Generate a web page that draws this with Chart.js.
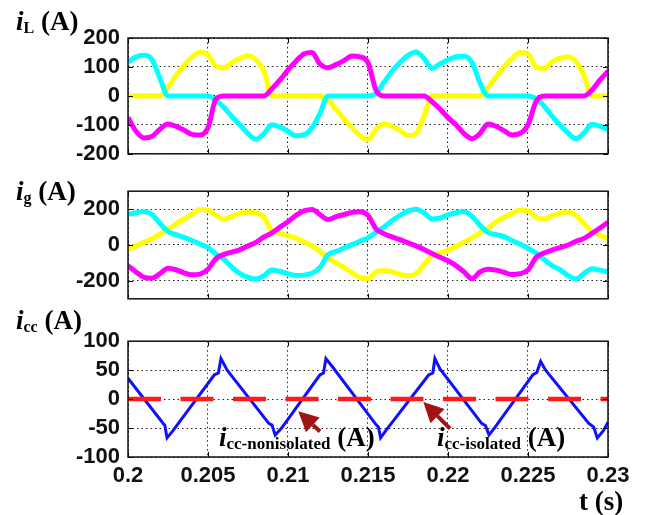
<!DOCTYPE html>
<html>
<head>
<meta charset="utf-8">
<title>iL, ig, icc</title>
<script src="https://cdn.jsdelivr.net/npm/chart.js@4.4.0/dist/chart.umd.min.js"></script>
<style>
  html, body { margin: 0; padding: 0; background: #fff; }
  #wrap { position: relative; width: 648px; height: 515px; overflow: hidden; }
  canvas { position: absolute; left: 0; }
  .lbl { position: absolute; font-family: "Liberation Serif", "Times New Roman", serif; font-weight: bold;
         font-size: 27px; line-height: 27px; white-space: nowrap; color: #000; }
  .lbl i { font-style: italic; }
  .lbl sub { font-size: 16px; vertical-align: baseline; position: relative; top: 3px; }
  .lbl sub.long { font-size: 17px; }
</style>
</head>
<body>
<div id="wrap">
  <canvas id="chartL" width="648" height="175" style="top:0px"></canvas>
  <canvas id="chartG" width="648" height="150" style="top:170px"></canvas>
  <canvas id="chartC" width="648" height="195" style="top:320px"></canvas>

  <div class="lbl" style="left:16px;top:8px"><i>i</i><sub>L</sub> (A)</div>
  <div class="lbl" style="left:16px;top:178px"><i>i</i><sub>g</sub> (A)</div>
  <div class="lbl" style="left:16px;top:307px"><i>i</i><sub>cc</sub> (A)</div>
  <div class="lbl" style="left:219px;top:424px"><i>i</i><sub class="long">cc-nonisolated</sub> (A)</div>
  <div class="lbl" style="left:437px;top:424px"><i>i</i><sub class="long">cc-isolated</sub> (A)</div>
  <div class="lbl" style="left:579px;top:488px">t (s)</div>
</div>

<script>
(function () {
    "use strict";

    // Data
    var timeS = [0.2, 0.2005, 0.201, 0.2015, 0.202, 0.2025, 0.203, 0.2035, 0.204, 0.2045,
                 0.205, 0.2055, 0.206, 0.2065, 0.207, 0.2075, 0.208, 0.2085, 0.209, 0.2095,
                 0.21, 0.2105, 0.211, 0.2115, 0.212, 0.2125, 0.213, 0.2135, 0.214, 0.2145,
                 0.215, 0.2155, 0.216, 0.2165, 0.217, 0.2175, 0.218, 0.2185, 0.219, 0.2195,
                 0.22, 0.2205, 0.221, 0.2215, 0.222, 0.2225, 0.223, 0.2235, 0.224, 0.2245,
                 0.225, 0.2255, 0.226, 0.2265, 0.227, 0.2275, 0.228, 0.2285, 0.229, 0.2295, 0.23];

    var ilYellow = [0, 0, 0, 0, 0, 30, 70, 105, 134, 152,
                    142, 103, 97, 115, 130, 139, 125, 85, 0, 0,
                    0, 0, 0, 0, 0, -15, -45, -80, -110, -138,
                    -152, -115, -97, -105, -120, -137, -130, -70, 0, 0,
                    0, 0, 0, 0, 0, 30, 65, 100, 130, 150,
                    145, 100, 95, 118, 130, 134, 118, 70, 0, 0, 0];
    var ilCyan = [117, 135, 140, 125, 60, 0, 0, 0, 0, 0,
                  0, -15, -40, -72, -100, -130, -150, -130, -100, -108,
                  -122, -138, -135, -110, -60, 0, 0, 0, 0, 0,
                  0, 8, 47, 85, 115, 140, 152, 130, 95, 110,
                  125, 135, 137, 115, 45, 0, 0, 0, 0, 0,
                  0, -10, -35, -70, -100, -128, -148, -128, -98, -105, -116];
    var ilMagenta = [-75, -122, -145, -140, -115, -97, -105, -118, -133, -135,
                     -110, -10, 0, 0, 0, 0, 0, 0, 25, 55,
                     90, 120, 145, 150, 110, 97, 108, 122, 138, 135,
                     115, 20, 0, 0, 0, 0, 0, 0, -20, -45,
                     -75, -100, -130, -148, -130, -97, -105, -120, -135, -130,
                     -100, -20, 0, 0, 0, 0, 0, 0, 20, 55, 85];

    var igYellow = [-25, -5, 15, 35, 60, 88, 118, 145, 170, 198,
                    195, 165, 143, 160, 175, 184, 180, 155, 78, 65,
                    52, 38, 17, -3, -37, -70, -100, -125, -155, -182,
                    -188, -150, -142, -150, -163, -172, -160, -110, -60, -45,
                    -30, -8, 15, 40, 68, 95, 128, 155, 175, 195,
                    190, 155, 145, 162, 178, 184, 165, 120, 75, 55, 35];
    var igCyan = [170, 180, 187, 170, 120, 75, 58, 42, 25, 5,
                  -15, -50, -80, -125, -160, -180, -190, -170, -140, -148,
                  -160, -170, -168, -158, -125, -55, -36, -17, 2, 21,
                  40, 70, 100, 135, 165, 190, 200, 180, 145, 150,
                  168, 180, 187, 160, 110, 70, 58, 47, 25, 5,
                  -18, -45, -80, -115, -138, -170, -190, -160, -133, -140, -150];
    var igMagenta = [-115, -150, -180, -185, -160, -130, -138, -155, -166, -162,
                     -135, -76, -52, -40, -26, -5, 15, 45, 68, 100,
                     130, 165, 190, 198, 170, 142, 158, 170, 182, 185,
                     165, 90, 63, 45, 30, 12, -5, -25, -47, -68,
                     -88, -115, -150, -188, -150, -135, -140, -152, -165, -160,
                     -140, -70, -45, -28, -15, 0, 20, 37, 65, 95, 127];

    var iccTime = [0.2, 0.2022, 0.2023, 0.20244, 0.2028, 0.2054, 0.20565, 0.20581, 0.2062,
                   0.2088, 0.209, 0.2092, 0.2096, 0.212, 0.21222, 0.21237, 0.2128,
                   0.2155, 0.21565, 0.21579, 0.2161, 0.2188, 0.21905, 0.21918, 0.2195,
                   0.2221, 0.22235, 0.22256, 0.2229, 0.2253, 0.22555, 0.22579, 0.2261,
                   0.2288, 0.2291, 0.22933, 0.2297, 0.23];
    var iccNonIsolated = [36, -42, -45, -67, -55, 42, 45, 70, 50,
                          -42, -45, -62, -50, 42, 45, 70, 55,
                          -44, -48, -67, -55, 42, 45, 70, 52,
                          -42, -46, -62, -50, 42, 46, 65, 50,
                          -42, -48, -67, -55, -40];
    var isoTime = [0.2, 0.23];
    var iccIsolated = [0, 0];

    var xTickVals = [0.2, 0.205, 0.21, 0.215, 0.22, 0.225, 0.23];
    var xTickLabels = ['0.2', '0.205', '0.21', '0.215', '0.22', '0.225', '0.23'];
    var yTicksL = [-200, -100, 0, 100, 200];
    var yLabelsL = ['-200', '-100', '0', '100', '200'];
    var yTicksG = [-200, 0, 200];
    var yLabelsG = ['-200', '0', '200'];
    var yTicksC = [-100, -50, 0, 50, 100];
    var yLabelsC = ['-100', '-50', '0', '50', '100'];


    Chart.defaults.font.family = '"Liberation Sans", Arial, sans-serif';
    Chart.defaults.color = '#000';

    // Box with inward tick marks
    var framePlugin = {
        id: 'frame',
        afterDraw: function (chart) {
            var a = chart.chartArea, ctx = chart.ctx;
            var xs = chart.scales.x, ys = chart.scales.y;
            ctx.save();
            ctx.strokeStyle = '#000';
            ctx.lineWidth = 1;
            ctx.beginPath();
            xs.ticks.forEach(function (t) {
                var px = Math.round(xs.getPixelForValue(t.value)) + 0.5;
                ctx.moveTo(px, a.top); ctx.lineTo(px, a.top + 5);
                ctx.moveTo(px, a.bottom); ctx.lineTo(px, a.bottom - 5);
            });
            ys.ticks.forEach(function (t) {
                var py = Math.round(ys.getPixelForValue(t.value)) + 0.5;
                ctx.moveTo(a.left, py); ctx.lineTo(a.left + 5, py);
                ctx.moveTo(a.right, py); ctx.lineTo(a.right - 5, py);
            });
            ctx.stroke();
            ctx.lineWidth = 1.5;
            ctx.strokeStyle = '#111';
            ctx.strokeRect(a.left, a.top, a.right - a.left, a.bottom - a.top);
            ctx.restore();
        }
    };

    // Arrows pointing at the two icc curves (data coordinates)
    var arrowPlugin = {
        id: 'arrows',
        afterDatasetsDraw: function (chart) {
            var xs = chart.scales.x, ys = chart.scales.y, ctx = chart.ctx;
            var arrows = [
                {tail: [0.2120, -56], tip: [0.21064, -21]},
                {tail: [0.22013, -51], tip: [0.21846, -5]}
            ];
            ctx.save();
            ctx.fillStyle = '#a01414';
            ctx.strokeStyle = '#a01414';
            ctx.lineWidth = 4;
            arrows.forEach(function (a) {
                var x0 = xs.getPixelForValue(a.tail[0]), y0 = ys.getPixelForValue(a.tail[1]);
                var x1 = xs.getPixelForValue(a.tip[0]), y1 = ys.getPixelForValue(a.tip[1]);
                var ang = Math.atan2(y1 - y0, x1 - x0);
                var len = 20, half = 10;
                var bx = x1 - len * Math.cos(ang), by = y1 - len * Math.sin(ang);
                ctx.beginPath();
                ctx.moveTo(x0, y0); ctx.lineTo(bx, by);
                ctx.stroke();
                ctx.beginPath();
                ctx.moveTo(x1, y1);
                ctx.lineTo(bx + half * Math.sin(ang), by - half * Math.cos(ang));
                ctx.lineTo(bx - half * Math.sin(ang), by + half * Math.cos(ang));
                ctx.closePath();
                ctx.fill();
            });
            ctx.restore();
        }
    };

    function series(times, values, color, width, extra) {
        var ds = {
            data: times.map(function (t, i) { return {x: t, y: values[i]}; }),
            borderColor: color,
            borderWidth: width,
            pointRadius: 0,
            fill: false,
            tension: 0
        };
        for (var k in extra) { ds[k] = extra[k]; }
        return ds;
    }

    var smooth = {cubicInterpolationMode: 'monotone'};

    function yScale(min, max, ticks, labels) {
        return {
            type: 'linear', position: 'left', min: min, max: max,
            afterBuildTicks: function (s) { s.ticks = ticks.map(function (v) { return {value: v}; }); },
            afterFit: function (s) { s.width = 128; },
            ticks: {
                padding: 8, font: {size: 22, weight: 'bold'}, color: '#111', autoSkip: false,
                callback: function (v, i) { return labels[i]; }
            },
            grid: { color: '#222', lineWidth: 1, drawTicks: false },
            border: { display: false, dash: [1.5, 3] }
        };
    }

    function xScale(showTicks, height) {
        return {
            type: 'linear', min: 0.2, max: 0.23,
            afterBuildTicks: function (s) { s.ticks = xTickVals.map(function (v) { return {value: v}; }); },
            afterFit: function (s) { s.height = height; },
            ticks: {
                display: showTicks, padding: 6, font: {size: 22, weight: 'bold'}, color: '#111',
                maxRotation: 0, autoSkip: false,
                callback: function (v, i) { return xTickLabels[i]; }
            },
            grid: { color: '#222', lineWidth: 1, drawTicks: false },
            border: { display: false, dash: [1.5, 3] }
        };
    }

    function makeChart(id, datasets, x, y, padding, extraPlugins) {
        return new Chart(document.getElementById(id), {
            type: 'line',
            data: { datasets: datasets },
            options: {
                responsive: false,
                animation: false,
                layout: { padding: padding },
                plugins: { legend: { display: false }, tooltip: { enabled: false } },
                scales: { x: x, y: y }
            },
            plugins: [framePlugin].concat(extraPlugins || [])
        });
    }


    // iL chart
    makeChart('chartL', [
        series(timeS, ilMagenta, '#ff00ff', 5, smooth),
        series(timeS, ilCyan, '#00ffff', 5, smooth),
        series(timeS, ilYellow, '#ffff00', 5, smooth)
    ], xScale(false, 0), yScale(-200, 200, yTicksL, yLabelsL),
       {top: 38, bottom: 14, left: 0, right: 40});


    // ig chart
    makeChart('chartG', [
        series(timeS, igMagenta, '#ff00ff', 5, smooth),
        series(timeS, igCyan, '#00ffff', 5, smooth),
        series(timeS, igYellow, '#ffff00', 5, smooth)
    ], xScale(false, 0), yScale(-300, 300, yTicksG, yLabelsG),
       {top: 16, bottom: 11, left: 0, right: 40});


    // icc chart
    makeChart('chartC', [
        series(isoTime, iccIsolated, '#ff1a1a', 4.5, {borderDash: [33, 19.5], borderCapStyle: 'butt'}),
        series(iccTime, iccNonIsolated, '#1010ff', 3)
    ], xScale(true, 58), yScale(-100, 100, yTicksC, yLabelsC),
       {top: 13, bottom: 0, left: 0, right: 40}, [arrowPlugin]);

})();
</script>
</body>
</html>
